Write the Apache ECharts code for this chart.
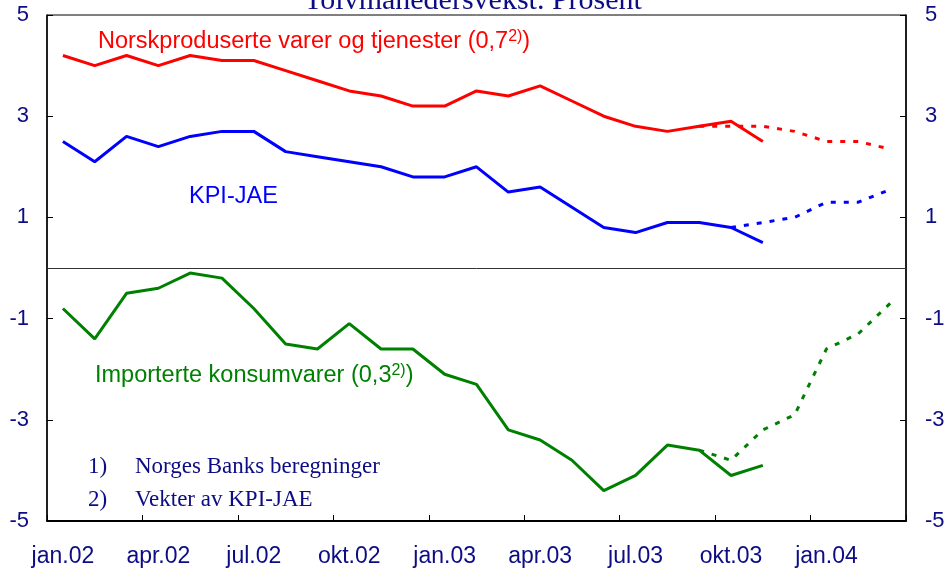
<!DOCTYPE html>
<html>
<head>
<meta charset="utf-8">
<script src="https://cdn.jsdelivr.net/npm/echarts@6/dist/echarts.min.js"></script>
<style>
html,body{margin:0;padding:0;background:#fff;}
#chart{width:951px;height:573px;}
</style>
</head>
<body>
<div id="chart"></div>
<script>
// Months jan.02 - mar.04
const months = ['jan.02','feb.02','mar.02','apr.02','mai.02','jun.02','jul.02','aug.02','sep.02','okt.02','nov.02','des.02',
                'jan.03','feb.03','mar.03','apr.03','mai.03','jun.03','jul.03','aug.03','sep.03','okt.03','nov.03','des.03',
                'jan.04','feb.04','mar.04'];
const yTicks = [-5, -3, -1, 1, 3, 5];

// Norskproduserte varer og tjenester (actual)
const norskActual = [4.2,4.0,4.2,4.0,4.2,4.1,4.1,3.9,3.7,3.5,3.4,3.2,3.2,3.5,3.4,3.6,3.3,3.0,2.8,2.7,2.8,2.9,2.5];
// projection (from sep.03)
const norskProj = [null,null,null,null,null,null,null,null,null,null,null,null,null,null,null,null,null,null,null,null,2.8,2.8,2.8,2.7,2.5,2.5,2.35];

// KPI-JAE
const kpiActual = [2.5,2.1,2.6,2.4,2.6,2.7,2.7,2.3,2.2,2.1,2.0,1.8,1.8,2.0,1.5,1.6,1.2,0.8,0.7,0.9,0.9,0.8,0.5];
const kpiProj = [null,null,null,null,null,null,null,null,null,null,null,null,null,null,null,null,null,null,null,null,null,0.8,0.9,1.0,1.3,1.3,1.55];

// Importerte konsumvarer
const impActual = [-0.8,-1.4,-0.5,-0.4,-0.1,-0.2,-0.8,-1.5,-1.6,-1.1,-1.6,-1.6,-2.1,-2.3,-3.2,-3.4,-3.8,-4.4,-4.1,-3.5,-3.6,-4.1,-3.9];
const impProj = [null,null,null,null,null,null,null,null,null,null,null,null,null,null,null,null,null,null,null,null,-3.6,-3.8,-3.2,-2.9,-1.6,-1.3,-0.7];

const NAVY = '#0c0c84';
const RED = '#ff0000', BLUE = '#0000ff', GREEN = '#008000';
const SANS = 'Liberation Sans';
const SERIF = 'Liberation Serif';

const chart = echarts.init(document.getElementById('chart'), null, {renderer:'canvas'});

function yAxisDef(pos, margin) {
  return {
    type: 'value', position: pos, min: yTicks[0], max: yTicks[yTicks.length-1], interval: 2,
    axisLine: {show: true, onZero: false, lineStyle: {color: '#000', width: 1.5}},
    axisTick: {show: true, inside: true, length: 6, lineStyle: {color: '#000', width: 1}},
    axisLabel: {color: NAVY, fontFamily: SANS, fontSize: 22, margin: margin},
    splitLine: {show: false}
  };
}

const solid = (name, data, color, extra) => Object.assign({
  name, type: 'line', data, symbol: 'none', smooth: false,
  lineStyle: {color, width: 3}, z: 3, silent: true
}, extra || {});
const dotted = (name, data, color) => ({
  name, type: 'line', data, symbol: 'none', connectNulls: false,
  lineStyle: {color, width: 3, type: [5, 8]}, z: 4, silent: true
});

chart.setOption({
  animation: false,
  backgroundColor: '#fff',
  grid: {left: 47, right: 45, top: 15, bottom: 52, show: true, borderColor: '#000', borderWidth: 1, backgroundColor: 'transparent'},
  xAxis: {
    type: 'category', data: months, boundaryGap: true,
    axisLine: {show: true, onZero: false, lineStyle: {color: '#000', width: 2}},
    axisTick: {show: true, inside: true, length: 6, interval: (i) => i % 3 === 0, lineStyle: {color: '#000', width: 1}},
    axisLabel: {interval: (i) => i % 3 === 0, color: NAVY, fontFamily: SANS, fontSize: 23, margin: 24},
    splitLine: {show: false}
  },
  yAxis: [yAxisDef('left', 18), yAxisDef('right', 19)],
  series: [
    solid('Norsk', norskActual, RED, {
      markLine: {silent: true, symbol: 'none', label: {show: false},
        lineStyle: {color: '#333', width: 1, type: 'solid'}, data: [{yAxis: 0}]}
    }),
    dotted('Norsk proj', norskProj, RED),
    solid('KPI-JAE', kpiActual, BLUE),
    dotted('KPI-JAE proj', kpiProj, BLUE),
    solid('Import', impActual, GREEN),
    dotted('Import proj', impProj, GREEN)
  ],
  graphic: [
    {type: 'text', x: 0, y: 0, silent: true, z: 100,
      style: {text: 'Tolvmånedersvekst. Prosent', x: 473, y: 1, textAlign: 'center', textVerticalAlign: 'middle',
        fill: NAVY, font: '30px "' + SERIF + '"'}},
    {type: 'text', x: 98, y: 42, silent: true, z: 100,
      style: {text: '{a|Norskproduserte varer og tjenester (0,7}{s|2)}{a|)}', textVerticalAlign: 'middle',
        rich: {a: {fill: RED, fontFamily: SANS, fontSize: 23.5, lineHeight: 26},
               s: {fill: RED, fontFamily: SANS, fontSize: 16, verticalAlign: 'top', lineHeight: 16}}}},
    {type: 'text', x: 189, y: 197, silent: true, z: 100,
      style: {text: 'KPI-JAE', textVerticalAlign: 'middle', fill: BLUE, fontFamily: SANS, fontSize: 23.5}},
    {type: 'text', x: 95, y: 376, silent: true, z: 100,
      style: {text: '{a|Importerte konsumvarer (0,3}{s|2)}{a|)}', textVerticalAlign: 'middle',
        rich: {a: {fill: GREEN, fontFamily: SANS, fontSize: 23.5, lineHeight: 26},
               s: {fill: GREEN, fontFamily: SANS, fontSize: 16, verticalAlign: 'top', lineHeight: 16}}}},
    {type: 'text', x: 88, y: 467, silent: true, z: 100,
      style: {text: '1)', textVerticalAlign: 'middle', fill: NAVY, fontFamily: SERIF, fontSize: 23}},
    {type: 'text', x: 135, y: 467, silent: true, z: 100,
      style: {text: 'Norges Banks beregninger', textVerticalAlign: 'middle', fill: NAVY, fontFamily: SERIF, fontSize: 23}},
    {type: 'text', x: 88, y: 500, silent: true, z: 100,
      style: {text: '2)', textVerticalAlign: 'middle', fill: NAVY, fontFamily: SERIF, fontSize: 23}},
    {type: 'text', x: 135, y: 500, silent: true, z: 100,
      style: {text: 'Vekter av KPI-JAE', textVerticalAlign: 'middle', fill: NAVY, fontFamily: SERIF, fontSize: 23}}
  ]
});
</script>
</body>
</html>
